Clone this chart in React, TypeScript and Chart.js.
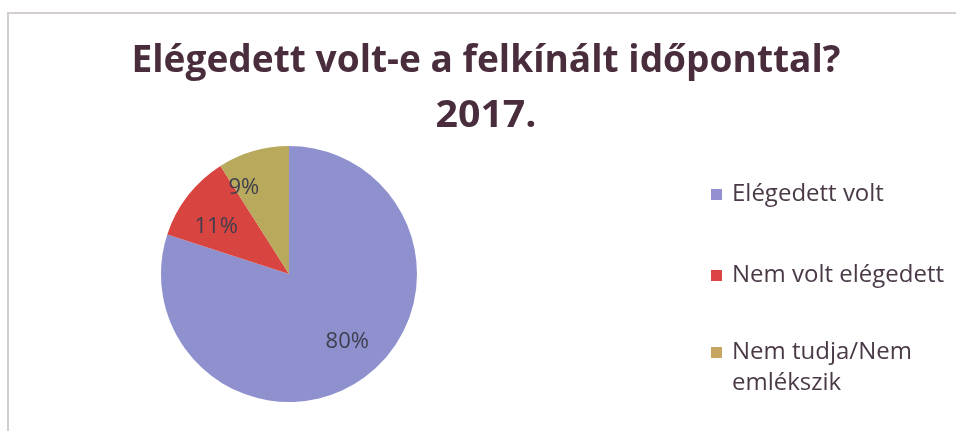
import React, { useEffect, useRef } from "react";
import { Chart, registerables } from "chart.js";

Chart.register(...registerables);

const categories = ["Elégedett volt", "Nem volt elégedett", "Nem tudja/Nem emlékszik"];
const values = [80, 11, 9];
const percentLabels = ["80%", "11%", "9%"];
const titleLines = ["Elégedett volt-e a felkínált időponttal?", "2017."];

const sliceColors = ["#8f91cf", "#d8443f", "#b9a95c"];
const legendColors = ["#948fd0", "#dc4545", "#c6a660"];

const W = 956;
const H = 431;

function wrapText(ctx: CanvasRenderingContext2D, text: string, maxW: number): string[] {
  const words = text.split(" ");
  const lines: string[] = [];
  let cur = "";
  for (const w of words) {
    const t = cur ? cur + " " + w : w;
    if (ctx.measureText(t).width > maxW && cur) {
      lines.push(cur);
      cur = w;
    } else {
      cur = t;
    }
  }
  if (cur) lines.push(cur);
  return lines;
}

const decorPlugin = {
  id: "decor",
  beforeDraw(chart: any) {
    const ctx = chart.ctx as CanvasRenderingContext2D;
    ctx.save();
    ctx.fillStyle = "#ffffff";
    ctx.fillRect(0, 0, W, H);
    ctx.lineWidth = 2;
    ctx.strokeStyle = "#d6cdd2";
    ctx.beginPath();
    ctx.moveTo(8, 13);
    ctx.lineTo(W, 13);
    ctx.stroke();
    ctx.strokeStyle = "#cfcfcf";
    ctx.beginPath();
    ctx.moveTo(8, 12);
    ctx.lineTo(8, H);
    ctx.stroke();
    ctx.restore();
  },
  afterDraw(chart: any) {
    const ctx = chart.ctx as CanvasRenderingContext2D;
    ctx.save();

    // Title
    ctx.fillStyle = "#4a2d3c";
    ctx.textAlign = "left";
    ctx.textBaseline = "alphabetic";
    ctx.font = "bold 38px 'Open Sans'";
    const titleTargets = [709, 101];
    const titleBaselines = [72, 127];
    const titleCx = 486;
    titleLines.forEach((line, i) => {
      const natural = ctx.measureText(line).width;
      const sx = titleTargets[i] / natural;
      ctx.save();
      ctx.translate(titleCx - titleTargets[i] / 2, titleBaselines[i]);
      ctx.scale(sx, 1);
      ctx.fillText(line, 0, 0);
      ctx.restore();
    });

    // Percent labels
    const meta = chart.getDatasetMeta(0);
    ctx.font = "22px 'Open Sans'";
    ctx.fillStyle = "#3e3e4e";
    ctx.textAlign = "center";
    ctx.textBaseline = "middle";
    const radFrac = [0.7, 0.68, 0.76];
    const angShift = [-0.08, -0.08, -0.2];
    meta.data.forEach((arc: any, i: number) => {
      const p = arc.getProps(["x", "y", "startAngle", "endAngle", "outerRadius"], true);
      const mid = (p.startAngle + p.endAngle) / 2 + angShift[i];
      const r = p.outerRadius * radFrac[i];
      ctx.fillText(percentLabels[i], p.x + Math.cos(mid) * r, p.y + Math.sin(mid) * r);
    });

    // Legend
    ctx.font = "24px 'Open Sans'";
    ctx.textAlign = "left";
    ctx.textBaseline = "middle";
    const legendYs = [194, 275, 352];
    const lineH = 31;
    categories.forEach((c, i) => {
      ctx.fillStyle = legendColors[i];
      ctx.fillRect(711, legendYs[i] - 5, 11, 11);
      ctx.fillStyle = "#4a3a48";
      const lines = wrapText(ctx, c, 216);
      lines.forEach((ln, j) => {
        ctx.fillText(ln, 732, legendYs[i] + j * lineH);
      });
    });

    ctx.restore();
  },
};

export default function App() {
  const ref = useRef<HTMLCanvasElement | null>(null);

  useEffect(() => {
    if (!ref.current) return;
    const chart = new Chart(ref.current, {
      type: "pie",
      data: {
        labels: categories,
        datasets: [
          {
            data: values,
            backgroundColor: sliceColors,
            borderWidth: 0,
          },
        ],
      },
      options: {
        responsive: false,
        animation: false,
        devicePixelRatio: 1,
        layout: { padding: { top: 146, bottom: 29, left: 161, right: 539 } },
        plugins: {
          legend: { display: false },
          title: { display: false },
          tooltip: { enabled: false },
        },
      },
      plugins: [decorPlugin],
    });
    return () => chart.destroy();
  }, []);

  return (
    <div style={{ position: "fixed", left: 0, top: 0, width: W, height: H, background: "#fff" }}>
      <canvas ref={ref} width={W} height={H} style={{ width: W, height: H, display: "block" }} />
    </div>
  );
}
